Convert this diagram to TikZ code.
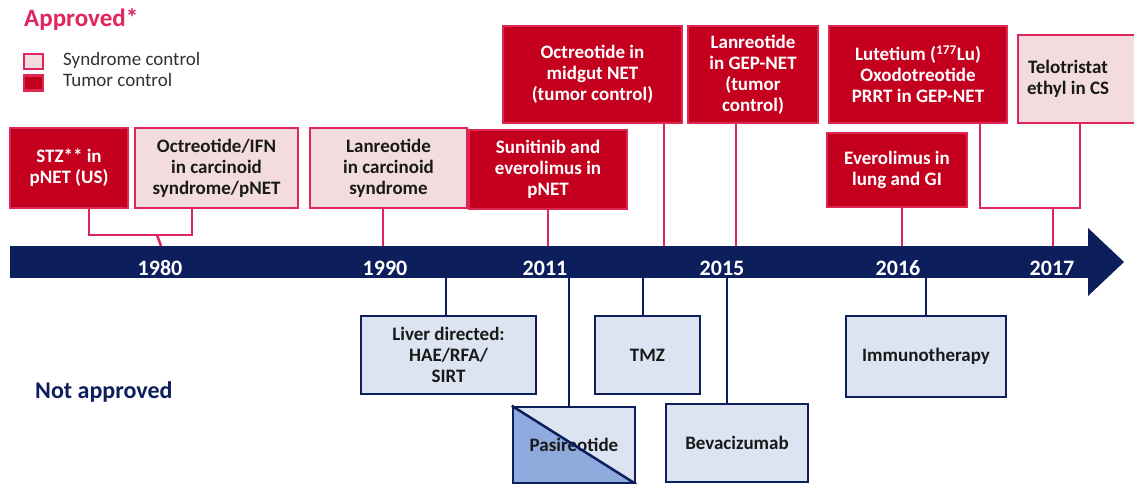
\documentclass[tikz,border=0pt]{standalone}
\usepackage{fontspec}
\setmainfont{Carlito}
\definecolor{tumfill}{RGB}{196,0,30}
\definecolor{tumedge}{RGB}{222,40,84}
\definecolor{pinkline}{RGB}{224,36,94}
\definecolor{synfill}{RGB}{242,220,222}
\definecolor{navy}{RGB}{12,30,92}
\definecolor{nafill}{RGB}{220,228,242}
\definecolor{pasdark}{RGB}{143,170,220}
\definecolor{darktext}{RGB}{25,25,25}
\definecolor{legtext}{RGB}{50,50,50}
\tikzset{
  box/.style={draw, line width=2.5pt, inner sep=0pt, align=center, font=\bfseries\fontsize{19}{21}\selectfont},
  tum/.style={box, fill=tumfill, draw=tumedge, text=white},
  syn/.style={box, fill=synfill, draw=pinkline, text=darktext},
  nab/.style={box, fill=nafill, draw=navy, text=darktext},
  pconn/.style={draw=pinkline, line width=2.5pt},
  nconn/.style={draw=navy, line width=2.5pt},
  year/.style={text=white, font=\bfseries\fontsize{22}{24}\selectfont, inner sep=0pt},
}
\begin{document}
\begin{tikzpicture}[x=1pt,y=-1pt]
\useasboundingbox (0,0) rectangle (1134,484);
\fill[white] (0,0) rectangle (1134,484);

% legend
\node[anchor=west, inner sep=0pt, text=pinkline, font=\bfseries\fontsize{25}{28}\selectfont] (appr) at (24,20) {Approved*};
\node[syn, minimum width=19pt, minimum height=15pt, line width=2.2pt] (legsyn) at (33.5,61.5) {};
\node[tum, minimum width=19pt, minimum height=15pt, line width=2.2pt] (legtum) at (33.5,83) {};
\node[anchor=west, inner sep=0pt, text=legtext, font=\fontsize{19}{21}\selectfont] (legsyntxt) at (63,60) {Syndrome control};
\node[anchor=west, inner sep=0pt, text=legtext, font=\fontsize{19}{21}\selectfont] (legtumtxt) at (63,80) {Tumor control};
\node[anchor=west, inner sep=0pt, text=navy, font=\bfseries\fontsize{24}{27}\selectfont] (notappr) at (35,392) {Not approved};

% timeline bar
\node[fill=navy, minimum width=1080pt, minimum height=32pt, inner sep=0pt, anchor=west] (bar) at (10,262) {};
\fill[navy] (1088,228) -- (1124,262) -- (1088,296) -- cycle;
\node[year] (y1980) at (160,268) {1980};
\node[year] (y1990) at (385,268) {1990};
\node[year] (y2011) at (545,268) {2011};
\node[year] (y2015) at (722,268) {2015};
\node[year] (y2016) at (898,268) {2016};
\node[year] (y2017) at (1052,268) {2017};

% approved boxes
\node[tum, minimum width=118pt, minimum height=80pt] (stz) at (69,168) {STZ** in\\pNET (US)};
\node[syn, minimum width=163pt, minimum height=80pt] (octifn) at (216.5,168) {Octreotide/IFN\\in carcinoid\\syndrome/pNET};
\node[syn, minimum width=157pt, minimum height=80pt] (lan1) at (388.5,168) {Lanreotide\\in carcinoid\\syndrome};
\node[tum, minimum width=158pt, minimum height=79pt] (sun) at (548,169.5) {Sunitinib and\\everolimus in\\pNET};
\node[tum, minimum width=179pt, minimum height=97pt] (oct2) at (592.5,74.5) {Octreotide in\\midgut NET\\(tumor control)};
\node[tum, minimum width=130pt, minimum height=97pt] (lan2) at (753,74.5) {Lanreotide\\in GEP-NET\\(tumor\\control)};
\node[tum, minimum width=178pt, minimum height=97pt] (lut) at (918,74.5) {Lutetium (\textsuperscript{177}Lu)\\Oxodotreotide\\PRRT in GEP-NET};
\node[tum, minimum width=140pt, minimum height=74pt] (evr) at (897,170) {Everolimus in\\lung and GI};
\node[syn, minimum width=124pt, minimum height=88pt] (telo) at (1080,79) {};
\node[box, draw=none, text=darktext] (telotxt) at (1068,79) {Telotristat\\ethyl in CS};

% approved connectors
\coordinate (stzj) at (89,235);
\coordinate (octj) at (192,235);
\coordinate (j1980) at (157,235);
\draw[pconn] ([xshift=20pt]stz.south) -- (stzj) -- (octj) -- ([xshift=-24.5pt]octifn.south);
\draw[pconn] (j1980) -- (bar.north -| 161,0);
\draw[pconn] ([xshift=-5.5pt]lan1.south) -- (bar.north -| 383,0);
\draw[pconn] (sun.south) -- (sun.south |- bar.north);
\draw[pconn] ([xshift=71.5pt]oct2.south) -- (bar.north -| 664,0);
\draw[pconn] ([xshift=-17pt]lan2.south) -- (bar.north -| 736,0);
\draw[pconn] ([xshift=5pt]evr.south) -- (bar.north -| 902,0);
\coordinate (lutj) at (980,208);
\coordinate (teloj) at (1080,208);
\coordinate (j2017) at (1053,208);
\draw[pconn] ([xshift=62pt]lut.south) -- (lutj) -- (teloj) -- (telo.south);
\draw[pconn] (j2017) -- (bar.north -| 1053,0);

% not approved boxes
\node[nab, minimum width=175pt, minimum height=78pt] (liver) at (448.5,355) {Liver directed:\\HAE/RFA/\\SIRT};
\node[nab, minimum width=105pt, minimum height=78pt] (tmz) at (647.5,355) {TMZ};
\node[nab, minimum width=142pt, minimum height=78pt] (bev) at (737,443) {Bevacizumab};
\node[nab, minimum width=160pt, minimum height=81pt] (imm) at (926,356.5) {Immunotherapy};
\node[nab, minimum width=122pt, minimum height=76pt,
  path picture={
    \fill[pasdark] (path picture bounding box.north west) -- (path picture bounding box.south east) -- (path picture bounding box.south west) -- cycle;
  }] (pas) at (574,445) {Pasireotide};
\draw[navy, line width=2.5pt] (pas.north west) -- (pas.south east);

% not approved connectors
\draw[nconn] (bar.south -| 446,0) -- ([xshift=-2.5pt]liver.north);
\draw[nconn] (bar.south -| 569,0) -- ([xshift=-5pt]pas.north);
\draw[nconn] (bar.south -| 643,0) -- ([xshift=-4.5pt]tmz.north);
\draw[nconn] (bar.south -| 727,0) -- ([xshift=-10pt]bev.north);
\draw[nconn] (bar.south -| 926,0) -- (imm.north);
\end{tikzpicture}
\end{document}
